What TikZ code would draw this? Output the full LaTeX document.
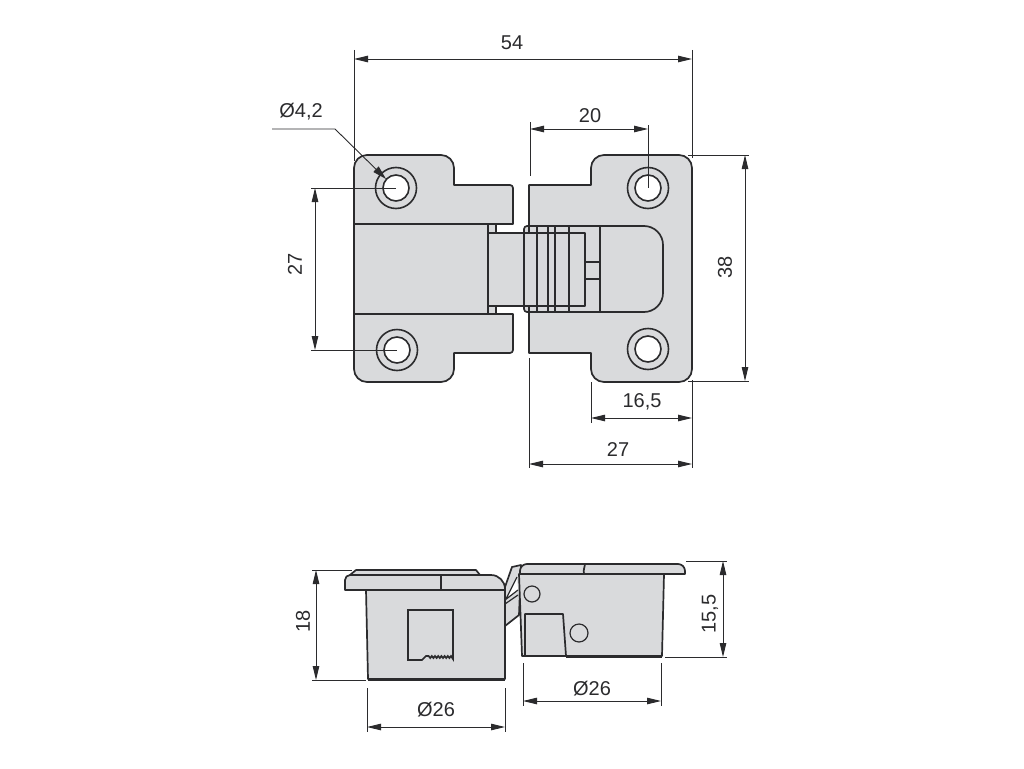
\documentclass[tikz,border=0pt]{standalone}
\usepackage{fontspec}
\setmainfont{Liberation Sans}
\usetikzlibrary{arrows.meta}
\definecolor{partfill}{HTML}{D9DADC}
\definecolor{ink}{HTML}{2B2B2D}
\tikzset{
  part/.style={draw=ink,fill=partfill,line width=1.7pt,line join=round},
  edge/.style={draw=ink,line width=1.7pt},
  thin edge/.style={draw=ink,line width=1.2pt},
  heavy/.style={draw=ink,line width=3pt},
  dimline/.style={draw=ink,line width=0.9pt,{Stealth[length=14pt,width=6.5pt,inset=0pt]}-{Stealth[length=14pt,width=6.5pt,inset=0pt]}},
  extline/.style={draw=ink,line width=0.9pt},
  leader/.style={draw=ink,line width=0.9pt,-{Stealth[length=14pt,width=7.5pt,inset=0pt]}},
  lab/.style={font=\fontsize{20}{20}\selectfont,text=ink,inner sep=0pt},
  hole/.style={circle,draw=ink,line width=1.6pt,fill=white,minimum size=26pt,inner sep=0pt},
  ring/.style={circle,draw=ink,line width=1.6pt,fill=partfill,minimum size=41pt,inner sep=0pt},
  pin/.style={circle,thin edge,fill=partfill,inner sep=0pt},
}
\begin{document}
\begin{tikzpicture}[x=1pt,y=-1pt]
\useasboundingbox (0,0) rectangle (1024,768);
% ---------- plan view : middle link
\path[part] (488,224) rectangle (496,233);
\path[part] (488,306) rectangle (496,314);
% left plate
\path[part,rounded corners=13pt] (354,224) -- (354,155) -- (454,155) [rounded corners=0pt] -- (454,185) [rounded corners=3pt] -- (513,185) [sharp corners] -- (513,224) -- cycle;
\path[part] (354,314) -- (513,314) [rounded corners=3pt] -- (513,353) [sharp corners] -- (454,353) [rounded corners=13pt] -- (454,382) -- (354,382) [sharp corners] -- cycle;
\path[part] (354,224) rectangle (488,314);
% right plate
\path[part] (529,226) -- (529,185) -- (591,185) [rounded corners=13pt] -- (591,155) -- (692,155) -- (692,382) -- (591,382) [sharp corners] -- (591,353) -- (529,353) -- (529,312);
% hinge cover
\path[part] (524,270) [rounded corners=3pt] -- (524,226) [rounded corners=19pt] -- (663,226) -- (663,312) [rounded corners=3pt] -- (524,312) [sharp corners] -- cycle;
\path[part] (488,233) rectangle (585,306);
\draw[edge] (524,229) -- (524,309);
\foreach \xx in {537,548,555,569,600} \draw[edge] (\xx,226) -- (\xx,312);
\draw[edge] (529,226) -- (529,233) (529,306) -- (529,312);
\draw[edge] (585,262) -- (600,262) (585,279) -- (600,279);
% holes
\node[ring] (r1) at (396,188) {}; \node[hole] (h1) at (396,188) {};
\node[ring] (r2) at (397,350) {}; \node[hole] (h2) at (397,350) {};
\node[ring] (r3) at (648,188) {}; \node[hole] (h3) at (648,188) {};
\node[ring] (r4) at (648,349) {}; \node[hole] (h4) at (648,349) {};
% ---------- side view : hinge arms
\path[part] (505,587) -- (512,567) -- (521,565) -- (519,615) -- (505,626) -- cycle;
\path[fill=white] (517,577) -- (518,590) -- (506,599) -- cycle;
\draw[thin edge] (517,577) -- (506,599) (505,600) -- (518,590) (505,604) -- (518,595);
% left
\path[part] (366,590) -- (505,590) -- (505,679) -- (368,679) -- cycle;
\draw[heavy] (368,679) -- (505,679);
\path[part] (350,575) -- (356,570) -- (476,570) -- (480,575) -- cycle;
\path[part] (345,590) [rounded corners=5pt] -- (345,575) [rounded corners=14pt] -- (505,575) [sharp corners] -- (505,590) -- cycle;
\draw[edge] (441,575) -- (441,590);
\draw[edge] (408,610) -- (453,610) -- (453,659) -- (451,656)
  \foreach \k in {0,...,6} {-- ++(-1.6,2) -- ++(-1.6,-2)} -- (426,656) -- (422,660) -- (408,660) -- cycle;
% right
\path[part] (519,574) -- (664,574) -- (662,656) -- (522,656) -- cycle;
\draw[heavy] (566,656) -- (662,656);
\path[part] (520,574) [rounded corners=7pt] -- (520,564) -- (685,564) [sharp corners] -- (685,574) -- cycle;
\draw[edge] (584,574) .. controls (583,570) and (585,566) .. (585,564);
\node[pin,minimum size=16pt] (p1) at (532,594) {};
\node[pin,minimum size=18pt] (p2) at (579,633) {};
\path[part] (525,656) -- (525,614) -- (563,614) -- (566,656) -- cycle;
% ---------- extension lines
\draw[extline] (354,50) -- (354,161);
\draw[extline] (692,50) -- (692,158);
\draw[extline] (530,122) -- (530,176);
\draw[extline] (648,125) -- (648,188);
\draw[extline] (688,155) -- (749,155);
\draw[extline] (688,381) -- (749,381);
\draw[extline] (311,188) -- (396,188);
\draw[extline] (311,350) -- (397,350);
\draw[extline] (591,382) -- (591,423);
\draw[extline] (529,358) -- (529,468);
\draw[extline] (692,380) -- (692,468);
\draw[extline] (312,570) -- (352,570);
\draw[extline] (312,680) -- (366,680);
\draw[extline] (367,688) -- (367,732);
\draw[extline] (505,688) -- (505,732);
\draw[extline] (686,561) -- (727,561);
\draw[extline] (665,657) -- (727,657);
\draw[extline] (523,663) -- (523,706);
\draw[extline] (661,663) -- (661,706);
% ---------- dimension lines
\coordinate (a54) at (354,59); \coordinate (b54) at (692,59);
\coordinate (a20) at (530,129); \coordinate (b20) at (648,129);
\coordinate (a38) at (745,155); \coordinate (b38) at (745,381);
\coordinate (a27) at (315,188); \coordinate (b27) at (315,350);
\coordinate (a165) at (591,418); \coordinate (b165) at (692,418);
\coordinate (c27) at (529,464); \coordinate (d27) at (692,464);
\coordinate (a18) at (316,570); \coordinate (b18) at (316,680);
\coordinate (a26) at (367,727); \coordinate (b26) at (505,727);
\coordinate (a155) at (723,561); \coordinate (b155) at (723,657);
\coordinate (c26) at (523,701); \coordinate (d26) at (661,701);
\foreach \p/\q in {a54/b54,a20/b20,a38/b38,a27/b27,a165/b165,c27/d27,a18/b18,a26/b26,a155/b155,c26/d26}
  \draw[dimline] (\p) -- (\q);
\coordinate (l0) at (272,129); \coordinate (l1) at (335,129); \coordinate (l2) at (386,179);
\draw[leader] (l0) -- (l1) -- (l2);
% ---------- labels
\node[lab] (t54) at (512,43) {54};
\node[lab] (t42) at (301,112) {Ø4,2};
\node[lab] (t20) at (590,116) {20};
\node[lab,rotate=90] (t27a) at (295,264) {27};
\node[lab,rotate=90] (t38) at (725,267) {38};
\node[lab] (t165) at (642,402) {16,5};
\node[lab] (t27b) at (618,450) {27};
\node[lab,rotate=90] (t18) at (303,621) {18};
\node[lab] (t26a) at (436,710) {Ø26};
\node[lab,rotate=90] (t155) at (710,614) {15,5};
\node[lab] (t26b) at (592,689) {Ø26};
\end{tikzpicture}
\end{document}
